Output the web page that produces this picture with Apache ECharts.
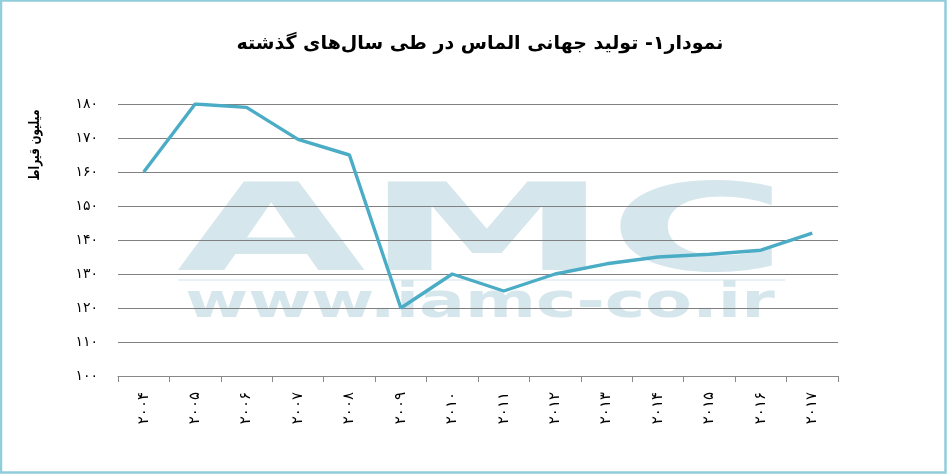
<!DOCTYPE html>
<html>
<head>
<meta charset="utf-8">
<script src="https://cdn.jsdelivr.net/npm/echarts@6/dist/echarts.min.js"></script>
<style>
html,body{margin:0;padding:0;background:#fff;}
#c{width:947px;height:474px;}
</style>
</head>
<body>
<div id="c"></div>
<script>
var years = ['۲۰۰۴','۲۰۰۵','۲۰۰۶','۲۰۰۷','۲۰۰۸','۲۰۰۹','۲۰۱۰','۲۰۱۱','۲۰۱۲','۲۰۱۳','۲۰۱۴','۲۰۱۵','۲۰۱۶','۲۰۱۷'];
var production = [160, 180, 179, 169.6, 165, 120, 130, 125, 130, 133, 135, 135.8, 137, 142];
var yTickLabels = {100:'۱۰۰',110:'۱۱۰',120:'۱۲۰',130:'۱۳۰',140:'۱۴۰',150:'۱۵۰',160:'۱۶۰',170:'۱۷۰',180:'۱۸۰'};
var titleText = 'نمودار۱- تولید جهانی الماس در طی سال‌های گذشته';
var yName = 'میلیون قیراط';

var FONT = 'DejaVu Sans';
var chart = echarts.init(document.getElementById('c'), null, {renderer:'canvas'});
chart.setOption({
  animation: false,
  backgroundColor: '#fff',
  title: {
    text: titleText, left: 475, top: 30, textAlign: 'center',
    textStyle: {fontFamily: FONT, fontSize: 19, fontWeight: 'bold', color: '#000'}
  },
  grid: {left: 118, right: 109, top: 104, bottom: 98},
  xAxis: {
    type: 'category', data: years, boundaryGap: true,
    axisLine: {lineStyle: {color: '#888', width: 1}},
    axisTick: {show: true, length: 6, lineStyle: {color: '#888'}},
    axisLabel: {rotate: 90, margin: 16, fontFamily: FONT, fontSize: 15, color: '#000'}
  },
  yAxis: {
    type: 'value', min: 100, max: 180, interval: 10,
    axisLine: {show: false}, axisTick: {show: false},
    splitLine: {lineStyle: {color: '#808080', width: 1}},
    axisLabel: {margin: 20, fontFamily: FONT, fontSize: 14, color: '#000',
      formatter: function(v){ return yTickLabels[v] || ''; }}
  },
  graphic: [
    {type: 'rect', z: 100, silent: true, shape: {x: 1, y: 0.5, width: 944.5, height: 472}, style: {fill: 'none', stroke: '#92cddc', lineWidth: 2.5}},
    {type: 'text', z: -10, silent: true, x: 482, y: 238, scaleX: 2.0, scaleY: 1,
      style: {text: 'AMC', fontFamily: FONT, fontSize: 122, fontWeight: 'bold', fill: '#d5e6ec', align: 'center', verticalAlign: 'middle'}},
    {type: 'rect', z: -10, silent: true, shape: {x: 178, y: 279, width: 607, height: 2}, style: {fill: '#e8f1f5'}},
    {type: 'text', z: -10, silent: true, x: 480, y: 305, scaleX: 1.42, scaleY: 1,
      style: {text: 'www.iamc-co.ir', fontFamily: FONT, fontSize: 48, fontWeight: 'bold', fill: '#d5e6ec', align: 'center', verticalAlign: 'middle'}},
    {type: 'text', z: 10, silent: true, x: 35, y: 145, rotation: Math.PI/2, scaleX: 0.75,
      style: {text: yName, fontFamily: FONT, fontSize: 14, fontWeight: 'bold', fill: '#000', align: 'center', verticalAlign: 'middle'}}
  ],
  series: [{
    type: 'line', data: production, symbol: 'none', z: 5,
    lineStyle: {color: '#4bacc6', width: 3.4}
  }]
});
</script>
</body>
</html>
